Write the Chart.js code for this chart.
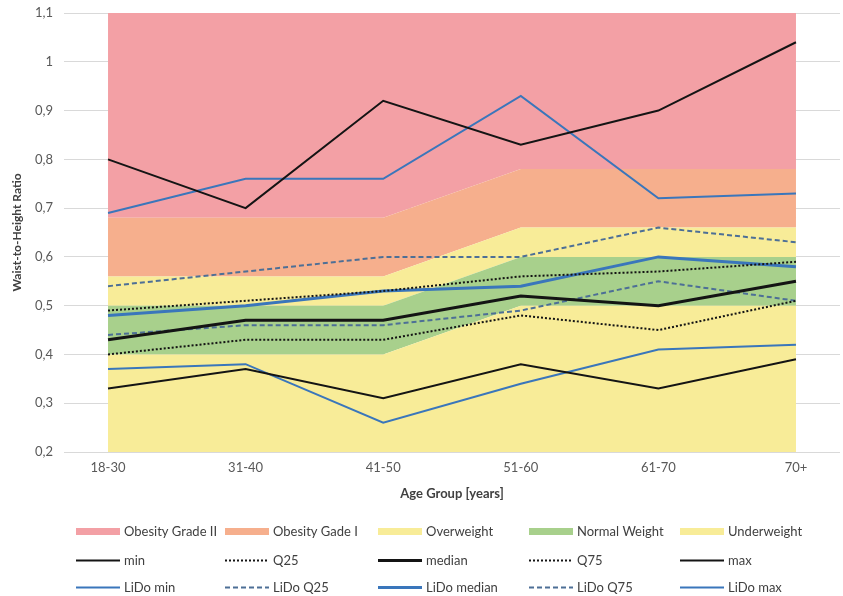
<!DOCTYPE html>
<html><head><meta charset="utf-8">
<script src="https://cdn.jsdelivr.net/npm/chart.js@4.4.0/dist/chart.umd.min.js"></script>
<style>html,body{margin:0;padding:0;background:#fff}#wrap{width:843px;height:596px;position:relative}canvas{display:block}</style>
</head><body><div id="wrap"><canvas id="c" width="843" height="596"></canvas></div>
<script>
const categories = ['18-30','31-40','41-50','51-60','61-70','70+'];
// Band upper limits (waist-to-height ratio)
const underweightTop = [0.40,0.40,0.40,0.50,0.50,0.50];
const normalTop      = [0.50,0.50,0.50,0.60,0.60,0.60];
const overweightTop  = [0.56,0.56,0.56,0.66,0.66,0.66];
const obesity1Top    = [0.68,0.68,0.68,0.78,0.78,0.78];
const obesity2Top    = [1.10,1.10,1.10,1.10,1.10,1.10];
// Reference statistics
const minVals    = [0.33,0.37,0.31,0.38,0.33,0.39];
const q25Vals    = [0.40,0.43,0.43,0.48,0.45,0.51];
const medianVals = [0.43,0.47,0.47,0.52,0.50,0.55];
const q75Vals    = [0.49,0.51,0.53,0.56,0.57,0.59];
const maxVals    = [0.80,0.70,0.92,0.83,0.90,1.04];
// LiDo statistics
const lidoMin    = [0.37,0.38,0.26,0.34,0.41,0.42];
const lidoQ25    = [0.44,0.46,0.46,0.49,0.55,0.51];
const lidoMedian = [0.48,0.50,0.53,0.54,0.60,0.58];
const lidoQ75    = [0.54,0.57,0.60,0.60,0.66,0.63];
const lidoMax    = [0.69,0.76,0.76,0.93,0.72,0.73];
const legendRows = [
  ['Obesity Grade II','Obesity Gade I','Overweight','Normal Weight','Underweight'],
  ['min','Q25','median','Q75','max'],
  ['LiDo min','LiDo Q25','LiDo median','LiDo Q75','LiDo max']
];

const FONT = 'Lato, "Open Sans", sans-serif';
const pts = arr => arr.map((v,i)=>({x:i,y:v}));
const C_PINK='#f3a0a5', C_ORANGE='#f6af8d', C_YELLOW='#f8ec98', C_GREEN='#a8d08c';
const C_BLACK='#141414', C_BLUE='#3a76bb', C_BLUED='#4d6f96';

function band(label, data, color, fill){
  return {label, data:pts(data), backgroundColor:color, borderColor:'rgba(0,0,0,0)', borderWidth:0,
    pointRadius:0, fill, order:10, isBand:true, tension:0};
}
function line(label, data, color, width, dash){
  return {label, data:pts(data), borderColor:color, backgroundColor:color, borderWidth:width,
    borderDash:dash||[], pointRadius:0, fill:false, order:1, tension:0, borderCapStyle:'butt'};
}

const datasets = [
  band('Underweight', underweightTop, C_YELLOW, 'start'),
  band('Normal Weight', normalTop, C_GREEN, '-1'),
  band('Overweight', overweightTop, C_YELLOW, '-1'),
  band('Obesity Gade I', obesity1Top, C_ORANGE, '-1'),
  band('Obesity Grade II', obesity2Top, C_PINK, '-1'),
  line('min', minVals, C_BLACK, 2),
  line('Q25', q25Vals, C_BLACK, 2, [2,2]),
  line('median', medianVals, C_BLACK, 3),
  line('Q75', q75Vals, C_BLACK, 2, [2,2]),
  line('max', maxVals, C_BLACK, 2),
  line('LiDo min', lidoMin, C_BLUE, 2),
  line('LiDo Q25', lidoQ25, C_BLUED, 2, [5,3]),
  line('LiDo median', lidoMedian, C_BLUE, 3),
  line('LiDo Q75', lidoQ75, C_BLUED, 2, [5,3]),
  line('LiDo max', lidoMax, C_BLUE, 2)
];

const gridLegend = {
  id:'gridLegend',
  afterDraw(chart, args, opts){
    const ctx = chart.ctx;
    ctx.save();
    ctx.font = '13px ' + FONT;
    ctx.textBaseline = 'middle';
    ctx.textAlign = 'left';
    legendRows.forEach((row, r) => {
      row.forEach((lab, c) => {
        const ds = chart.data.datasets.find(d => d.label === lab);
        const x0 = opts.cols[c], y = opts.rows[r];
        if (ds.isBand) {
          ctx.fillStyle = ds.backgroundColor;
          ctx.fillRect(x0, y-3, opts.sw, 7);
        } else {
          ctx.strokeStyle = ds.borderColor;
          ctx.lineWidth = ds.borderWidth;
          ctx.setLineDash(ds.borderDash);
          ctx.beginPath(); ctx.moveTo(x0, y+0.5); ctx.lineTo(x0+opts.sw, y+0.5); ctx.stroke();
          ctx.setLineDash([]);
        }
        ctx.fillStyle = '#404040';
        ctx.fillText(lab, x0 + opts.sw + 4, y + 1);
      });
    });
    ctx.restore();
  }
};

new Chart(document.getElementById('c'), {
  type:'line',
  data:{datasets},
  options:{
    responsive:false, animation:false, devicePixelRatio:1,
    layout:{padding:{left:0, right:3, top:13, bottom:94}},
    plugins:{legend:{display:false}, tooltip:{enabled:false},
      gridLegend:{cols:[76,225,378,529,680], rows:[531,560,587], sw:44}},
    scales:{
      x:{type:'linear', min:-0.32, max:5.32,
        grid:{display:false, drawTicks:false}, border:{display:false},
        afterBuildTicks: s => { s.ticks = categories.map((_,i)=>({value:i})); },
        afterFit: s => { s.height = 50; },
        ticks:{padding:8, color:'#595959', font:{family:FONT, size:13}, maxRotation:0,
          callback: v => categories[v]},
        title:{display:true, text:'Age Group [years]', color:'#404040', padding:{top:0,bottom:0},
          font:{family:FONT, size:13, weight:'bold'}}
      },
      y:{min:0.2, max:1.1,
        grid:{color:'#d9d9d9', drawTicks:false}, border:{display:false},
        afterFit: s => { s.width = 64; s.paddingTop = 0; s.paddingBottom = 0; },
        ticks:{stepSize:0.1, padding:11, color:'#595959', font:{family:FONT, size:13},
          callback: v => String(Math.round(v*10)/10).replace('.', ',')},
        title:{display:true, text:'Waist-to-Height Ratio', color:'#404040', padding:{top:10,bottom:0},
          font:{family:FONT, size:12, weight:'bold'}}
      }
    }
  },
  plugins:[gridLegend]
});
</script></body></html>
